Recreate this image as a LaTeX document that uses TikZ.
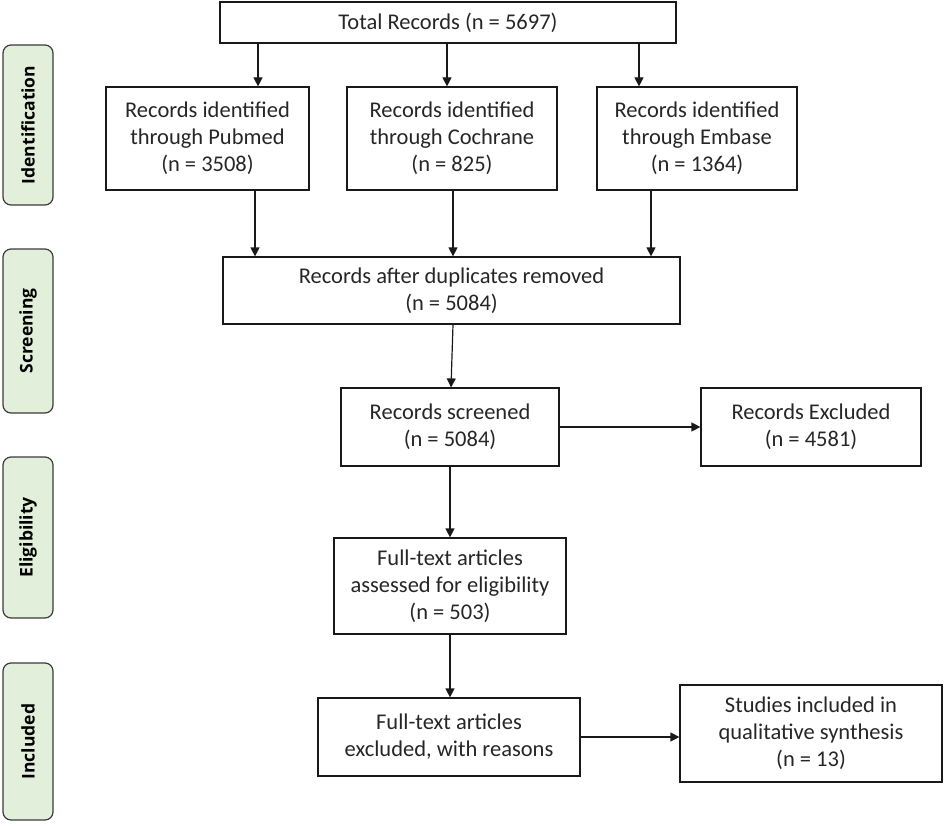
\documentclass[tikz,border=0pt]{standalone}
\usepackage{fontspec}
\setmainfont{Carlito}
\newfontfamily\lblfont{Open Sans}
\usetikzlibrary{arrows.meta}
\definecolor{sidefill}{HTML}{E2EFDA}
\definecolor{sidedraw}{HTML}{3A3A3A}
\definecolor{txt}{HTML}{262626}
\begin{document}
\begin{tikzpicture}[x=1pt,y=-1pt,
  box/.style={draw=black!90, line width=1.2pt, rectangle, align=center, inner sep=0pt,
    text=txt, font=\fontsize{22.5}{27}\selectfont},
  side/.style={draw=sidedraw, fill=sidefill, line width=1.2pt, rounded corners=8pt,
    minimum height=50pt, inner sep=0pt, rotate=90, text=black,
    font=\lblfont\bfseries\fontsize{17.5}{20}\selectfont},
  arr/.style={line width=1.2pt, draw=black!90, -{Triangle[length=9pt,width=9pt]}}]
\useasboundingbox (0,0) rectangle (944,826);
% sidebars
\node[side, minimum width=160pt] (sid) at (28,125) {Identification};
\node[side, minimum width=164pt] (sscr) at (28,331) {Screening};
\node[side, minimum width=161pt] (selg) at (28,537.5) {Eligibility};
\node[side, minimum width=157pt] (sinc) at (28,741.5) {Included};
% boxes
\node[box, minimum width=456pt, minimum height=41pt] (total) at (448,22.5) {Total Records (n = 5697)};
\node[box, minimum width=203pt, minimum height=103pt] (pub) at (207.5,138.5) {Records identified\\through Pubmed\\(n = 3508)};
\node[box, minimum width=210pt, minimum height=103pt] (coc) at (452,138.5) {Records identified\\through Cochrane\\(n = 825)};
\node[box, minimum width=200pt, minimum height=103pt] (emb) at (697,138.5) {Records identified\\through Embase\\(n = 1364)};
\node[box, minimum width=457pt, minimum height=67pt] (dup) at (451.5,290.5) {Records after duplicates removed\\(n = 5084)};
\node[box, minimum width=218pt, minimum height=78pt] (scr) at (450,427) {Records screened\\(n = 5084)};
\node[box, minimum width=220pt, minimum height=78pt] (exc) at (811,427) {Records Excluded\\(n = 4581)};
\node[box, minimum width=232pt, minimum height=96pt] (ass) at (450,586) {Full-text articles\\assessed for eligibility\\(n = 503)};
\node[box, minimum width=262pt, minimum height=78pt] (fte) at (449,737) {Full-text articles\\excluded, with reasons};
\node[box, minimum width=262pt, minimum height=97pt] (stu) at (811,733.5) {Studies included in\\qualitative synthesis\\(n = 13)};
% x guides for connectors
\coordinate (xa) at (258,0);
\coordinate (xb) at (447,0);
\coordinate (xc) at (639,0);
\coordinate (xd) at (255,0);
\coordinate (xe) at (453,0);
\coordinate (xf) at (651,0);
\coordinate (xg) at (451,0);
\coordinate (xh) at (450,0);
% connectors
\draw[arr] (total.south -| xa) -- (pub.north -| xa);
\draw[arr] (total.south -| xb) -- (coc.north -| xb);
\draw[arr] (total.south -| xc) -- (emb.north -| xc);
\draw[arr] (pub.south -| xd) -- (dup.north -| xd);
\draw[arr] (coc.south -| xe) -- (dup.north -| xe);
\draw[arr] (emb.south -| xf) -- (dup.north -| xf);
\draw[arr] (dup.south -| xe) -- (scr.north -| xg);
\draw[arr] (scr.south -| xh) -- (ass.north -| xh);
\draw[arr] (ass.south -| xh) -- (fte.north -| xh);
\draw[arr] (scr.east) -- (exc.west);
\draw[arr] (fte.east) -- (stu.west |- fte.east);
\end{tikzpicture}
\end{document}
